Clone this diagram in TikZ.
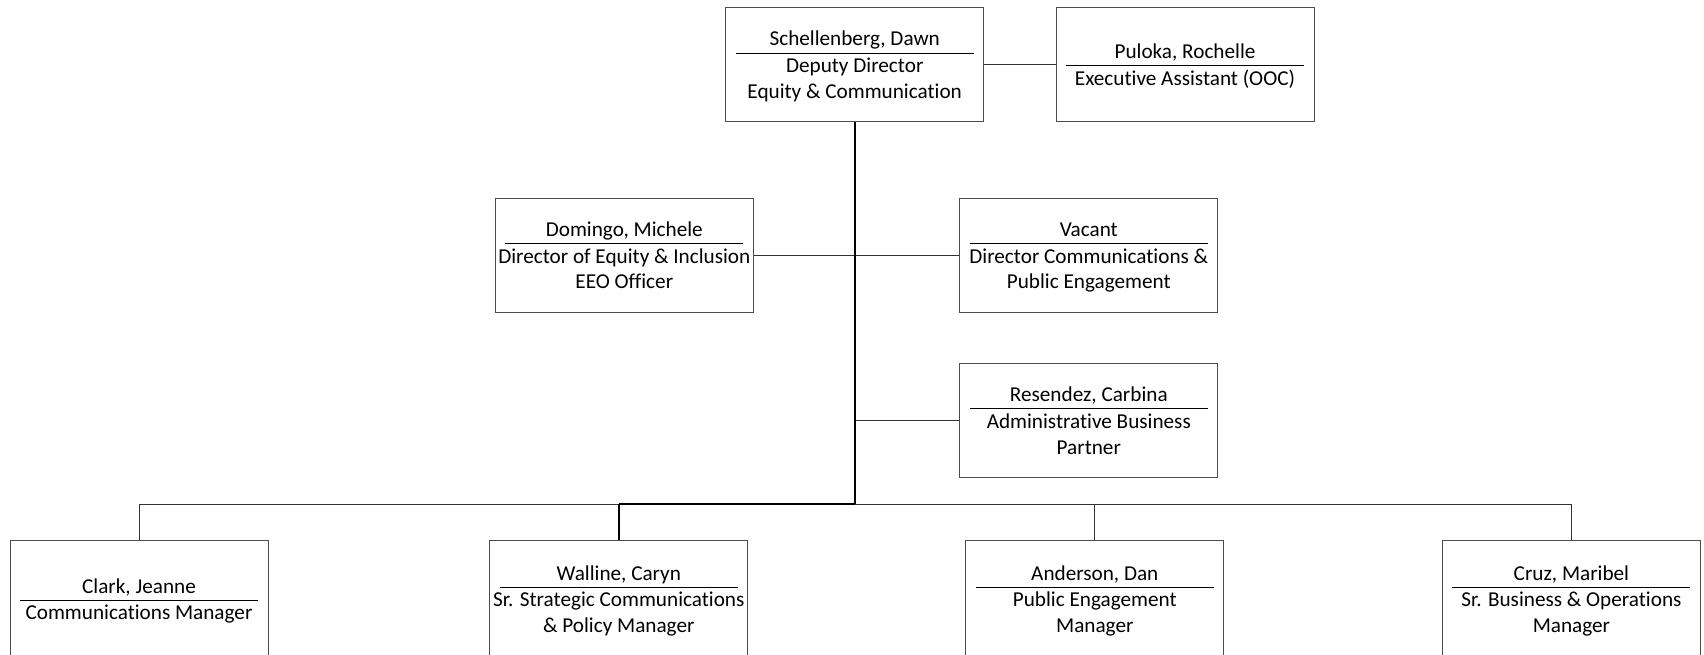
\documentclass[tikz,border=0pt]{standalone}
\usepackage{fontspec}
\setmainfont{Carlito}[RawFeature=-liga]
\tikzset{
  person/.style={draw=black!70, line width=0.5pt, rectangle, minimum width=129pt, minimum height=57pt,
    inner xsep=1pt, inner ysep=0pt, align=center, font=\fontsize{10.6}{12.8}\selectfont},
  lowbox/.style={person, minimum height=59pt},
  link/.style={draw=black!80, line width=0.5pt},
  trunk/.style={draw=black, line width=0.9pt}
}
\newcommand{\sep}{\strut\\[-9pt]\rule{119pt}{0.5pt}\\[-3.3pt]\strut}
\newcommand{\tstr}{\rule[-3.84pt]{0pt}{15.1pt}}
\begin{document}
\begin{tikzpicture}[x=0.5pt, y=-0.5pt]
\useasboundingbox (0,0) rectangle (1704,654);
\node[person] (top) at (854.7,64.6) {\tstr Schellenberg, Dawn\sep Deputy Director\\Equity \& Communication\strut};
\node[person] (pul) at (1185,64.6) {\tstr Puloka, Rochelle\sep Executive Assistant (OOC)\strut};
\node[person] (dom) at (624.3,255.4) {\tstr Domingo, Michele\sep Director of Equity \& Inclusion\\EEO Officer\strut};
\node[person] (vac) at (1088.8,255.4) {\tstr Vacant\sep Director Communications \&\\Public Engagement\strut};
\node[person] (res) at (1088.8,420.5) {\tstr Resendez, Carbina\sep Administrative Business\\Partner\strut};
\node[lowbox] (cla) at (139,599) {\tstr Clark, Jeanne\sep Communications Manager\strut};
\node[lowbox] (wal) at (618.8,599) {\tstr Walline, Caryn\sep Sr. Strategic Communications\\\& Policy Manager\strut};
\node[lowbox] (and) at (1094.8,599) {\tstr Anderson, Dan\sep Public Engagement\\Manager\strut};
\node[lowbox] (cru) at (1571.4,599) {\tstr Cruz, Maribel\sep Sr. Business \& Operations\\Manager\strut};
\coordinate (bus) at (854.7,504);
\draw[link] (top.east) -- (pul.west);
\draw[link] (dom.east) -- (vac.west);
\draw[link] (res.west) -- (top.south |- res.west);
\draw[trunk] (top.south) -- (bus);
\draw[link] (cla.north |- bus) -- (cla.north);
\draw[link] (cla.north |- bus) -- (wal.north |- bus);
\draw[trunk] (wal.north |- bus) -- (bus);
\draw[link] (bus) -- (cru.north |- bus) -- (cru.north);
\draw[trunk] (wal.north |- bus) -- (wal.north);
\draw[link] (and.north |- bus) -- (and.north);
\end{tikzpicture}
\end{document}
